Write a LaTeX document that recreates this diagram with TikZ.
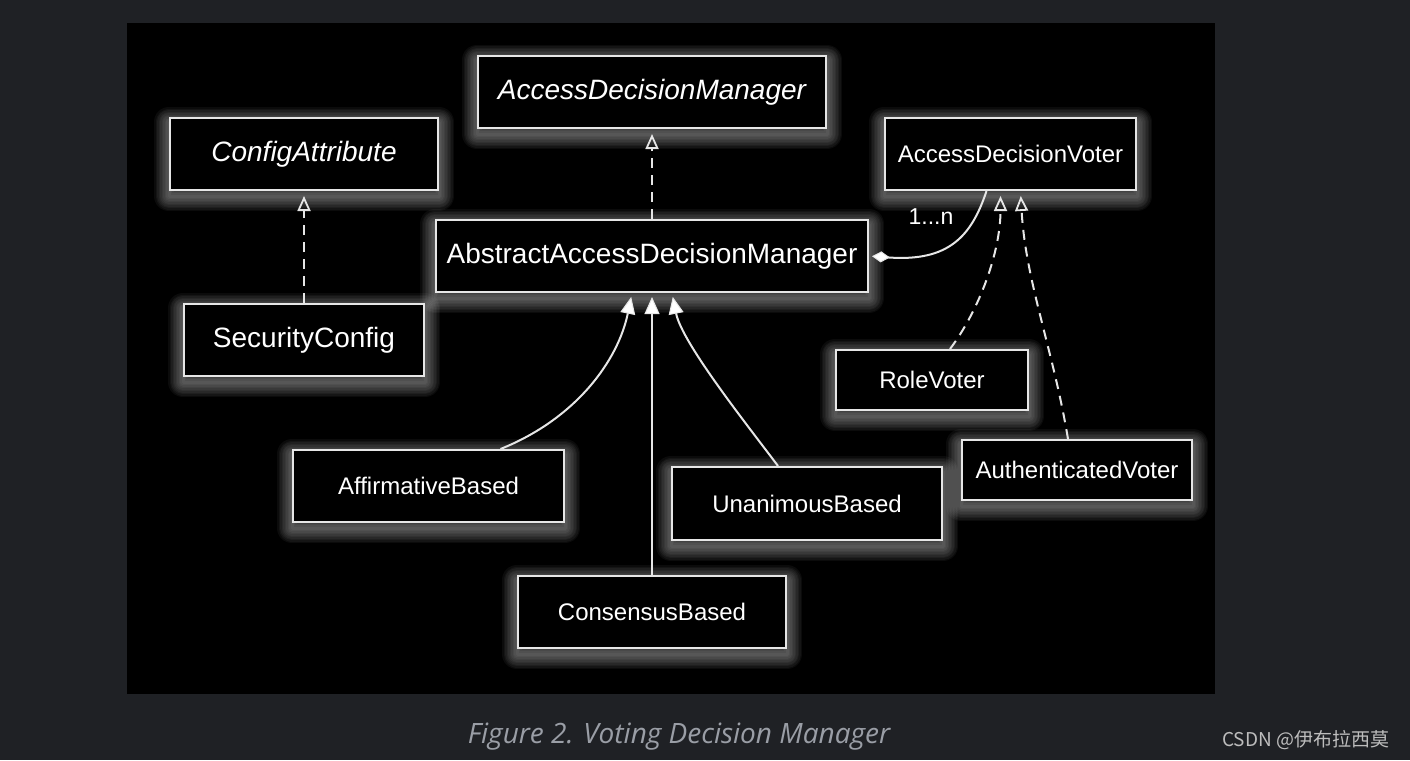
\documentclass[tikz,border=0pt]{standalone}
\usepackage{fontspec}
\setmainfont{Liberation Sans}
\newfontfamily\capfont{Open Sans}
\newfontfamily\cjk{Noto Sans CJK SC}
\usetikzlibrary{arrows.meta}
\pgfdeclarelayer{bgA}
\pgfdeclarelayer{bgB}
\pgfsetlayers{bgA,bgB,main}
\definecolor{pagebg}{HTML}{1F2125}
\definecolor{linecol}{HTML}{E6E6E6}
\definecolor{capcol}{HTML}{9A9EA6}
\definecolor{markcol}{HTML}{BDBDBD}
\tikzset{
  box/.style={draw=linecol, line width=2pt, fill=black, text=white, inner sep=0pt,
    font=\fontsize{28}{30}\selectfont},
  sbox/.style={box, font=\fontsize{24}{26}\selectfont},
  conn/.style={draw=linecol, line width=2pt},
  realize/.style={conn, dash pattern=on 10pt off 7pt,
    -{Triangle[open, length=15pt, width=13pt, line width=1.8pt]}, shorten >=5pt},
  inherit/.style={conn, -{Triangle[length=17pt, width=15pt, fill=white, line width=1pt]}, shorten >=4pt},
  multlabel/.style={text=white, inner sep=0pt, font=\fontsize{23}{25}\selectfont},
}
\newcommand\glowit[1]{%
  \begin{pgfonlayer}{bgB}
  \foreach \w in {30,27,...,3}{
    \draw[white, opacity=0.045, line width=\w pt, line join=round]
      ([shift={(0,5)}]#1.north west) rectangle ([shift={(0,5)}]#1.south east);
  }
  \end{pgfonlayer}}
\begin{document}
\begin{tikzpicture}[x=1pt,y=-1pt]
  \useasboundingbox (0,0) rectangle (1410,760);
  \begin{pgfonlayer}{bgA}
    \fill[pagebg] (0,0) rectangle (1410,760);
    \fill[black] (127,23) rectangle (1215,694);
  \end{pgfonlayer}

  \node[box, minimum width=348pt, minimum height=72pt, font=\fontsize{28}{30}\selectfont\itshape] (adm) at (652,92) {AccessDecisionManager};
  \node[box, minimum width=268pt, minimum height=72pt, font=\fontsize{28}{30}\selectfont\itshape] (cfg) at (304,154) {ConfigAttribute};
  \node[sbox, minimum width=251pt, minimum height=72pt] (adv) at (1010.5,154) {AccessDecisionVoter};
  \node[box, minimum width=432pt, minimum height=72pt] (aadm) at (652,256) {AbstractAccessDecisionManager};
  \node[box, minimum width=240pt, minimum height=72pt] (sec) at (304,340) {SecurityConfig};
  \node[sbox, minimum width=192pt, minimum height=60pt] (role) at (932,380) {RoleVoter};
  \node[sbox, minimum width=230pt, minimum height=60pt] (auth) at (1077,470) {AuthenticatedVoter};
  \node[sbox, minimum width=271pt, minimum height=72pt] (aff) at (428.5,486) {AffirmativeBased};
  \node[sbox, minimum width=270pt, minimum height=73pt] (una) at (807,503.5) {UnanimousBased};
  \node[sbox, minimum width=268pt, minimum height=72pt] (cons) at (652,612) {ConsensusBased};

  \foreach \n in {adm,cfg,adv,aadm,sec,role,auth,aff,una,cons}{\glowit{\n}}

  % realizations
  \draw[realize] (aadm.north) -- (adm.south);
  \draw[realize] (sec.north) -- (cfg.south);
  \draw[realize] ([xshift=18pt]role.north) .. controls +(30,-40) and +(0,60) .. ([xshift=-10pt]adv.south);
  \draw[realize] ([xshift=-9pt]auth.north) .. controls +(-15,-90) and +(5,90) .. ([xshift=10pt]adv.south);

  % composition
  \draw[conn, {Diamond[length=18pt, width=11pt, fill=white, line width=1pt]}-, shorten <=3pt]
    (aadm.east) .. controls +(80,6) and +(-15,45) .. ([xshift=-24pt]adv.south);
  \node[multlabel] (mult) at (931,217) {1...n};

  % inheritance
  \draw[inherit] ([xshift=72pt]aff.north) .. controls +(75,-30) and +(-14,68) .. ([xshift=-20pt]aadm.south);
  \draw[inherit] (cons.north) -- (aadm.south);
  \draw[inherit] ([xshift=-29pt]una.north) .. controls +(-30,-40) and +(10,50) .. ([xshift=20pt]aadm.south);

  % caption and watermark
  \node[text=capcol, font=\capfont\fontsize{28}{30}\selectfont\itshape] (cap) at (679,737) {Figure 2. Voting Decision Manager};
  \node[text=markcol, anchor=west, inner sep=0pt, font=\cjk\fontsize{19}{21}\selectfont] (mark) at (1222,740) {CSDN @伊布拉西莫};
\end{tikzpicture}
\end{document}
